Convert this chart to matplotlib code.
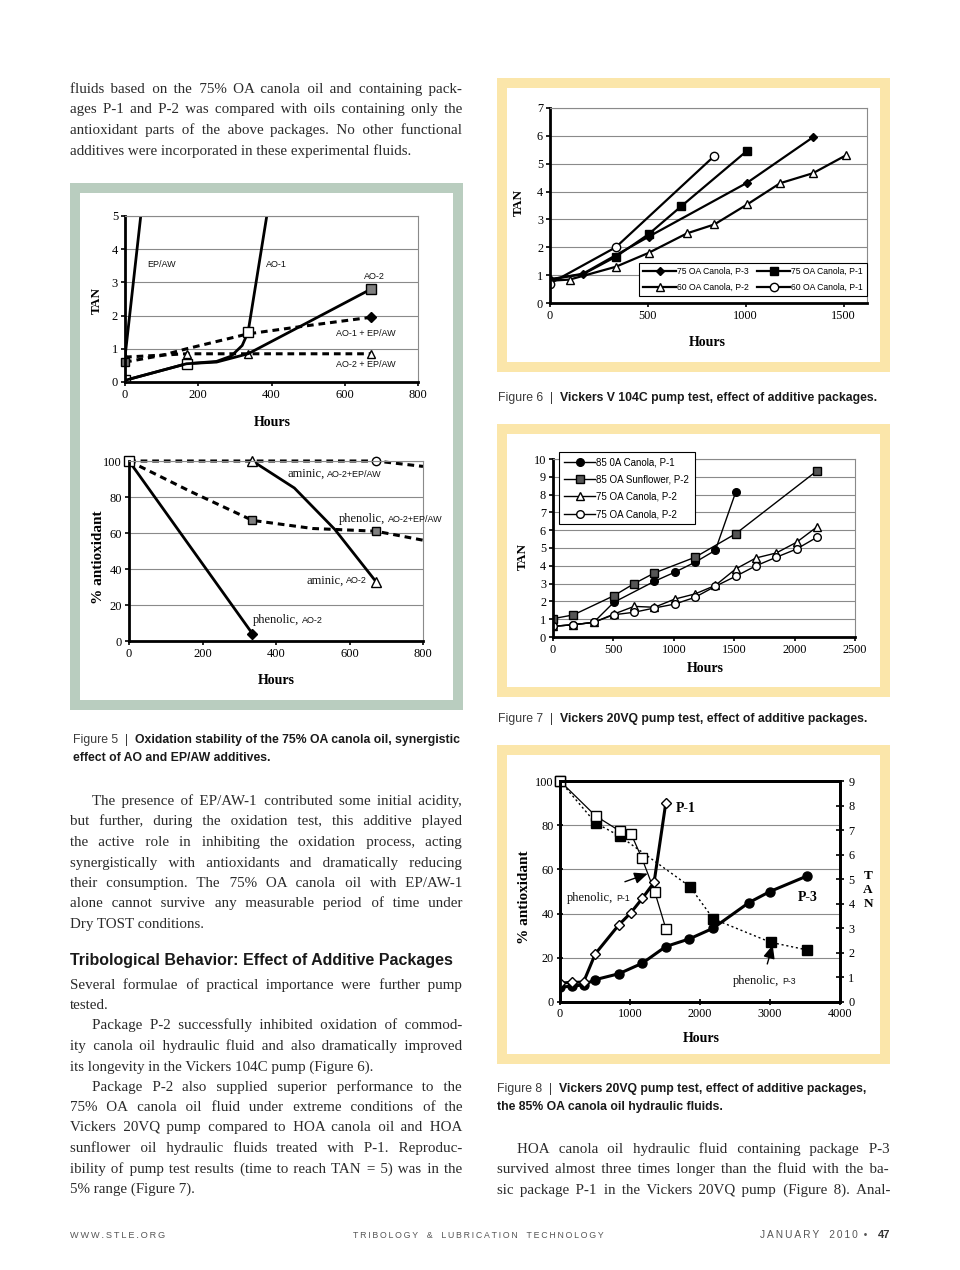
import matplotlib
matplotlib.use("Agg")
import matplotlib.pyplot as plt
from matplotlib.patches import Rectangle

W, H = 960, 1270
SERIF = ["Liberation Serif", "DejaVu Serif"]
SANS = ["Liberation Sans", "DejaVu Sans"]
NARROW = ["Liberation Sans Narrow", "Liberation Sans", "DejaVu Sans"]
GREEN = "#b9cdbf"
YELLOW = "#fbe6aa"
GRID = "#8a8a8a"
TXT = "#2a2a2a"
HAIR = "\u200a"

# ---- Figure 5 (top): TAN vs hours
ep_aw_h = [0, 44]
ep_aw_tan = [0.75, 5.1]
ao1_h = [0, 168, 250, 290, 320, 336, 390]
ao1_tan = [0.05, 0.55, 0.62, 0.78, 1.1, 1.5, 5.2]
ao2_h = [0, 168, 250, 336, 500, 672]
ao2_tan = [0.05, 0.55, 0.6, 0.85, 1.8, 2.8]
ao1_epaw_h = [0, 100, 168, 336, 500, 672]
ao1_epaw_tan = [0.6, 0.8, 1.0, 1.45, 1.7, 1.95]
ao2_epaw_h = [0, 168, 336, 672]
ao2_epaw_tan = [0.75, 0.85, 0.85, 0.85]

# ---- Figure 5 (bottom): % antioxidant vs hours
phen_ao2_h = [0, 336]
phen_ao2 = [100, 4]
amin_ao2_h = [0, 60, 168, 290, 336, 450, 560, 672]
amin_ao2 = [100, 101.5, 103, 101.5, 100, 85, 62, 33]
amin_ep_h = [0, 336, 672, 800]
amin_ep = [100, 100, 100, 97]
phen_ep_h = [0, 168, 336, 500, 672, 800]
phen_ep = [100, 83, 67, 62.5, 61, 56]

# ---- Figure 6: Vickers V104C
f6_p3_75_h = [0, 168, 504, 1008, 1344]
f6_p3_75 = [0.85, 1.05, 2.38, 4.32, 5.95]
f6_p1_75_h = [0, 168, 336, 504, 672, 1008]
f6_p1_75 = [0.85, 1.03, 1.66, 2.47, 3.48, 5.47]
f6_p2_60_h = [0, 100, 336, 504, 700, 840, 1008, 1176, 1344, 1512]
f6_p2_60 = [0.8, 0.84, 1.3, 1.8, 2.5, 2.82, 3.54, 4.3, 4.66, 5.3]
f6_p1_60_h = [0, 336, 840]
f6_p1_60 = [0.7, 2.0, 5.28]
f6_labels = ["75 OA Canola, P-3", "75 OA Canola, P-1", "60 OA Canola, P-2", "60 OA Canola, P-1"]

# ---- Figure 7: Vickers 20VQ
f7_h = [0, 168, 336, 504, 672, 840, 1008, 1176, 1344, 1512, 1680, 1848, 2016, 2184]
f7_c85_h = [0, 168, 336, 504, 840, 1008, 1176, 1344, 1512]
f7_c85 = [0.6, 0.69, 0.82, 1.95, 3.13, 3.64, 4.2, 4.87, 8.13]
f7_s85_h = [0, 168, 504, 672, 840, 1176, 1512, 2184]
f7_s85 = [1.03, 1.24, 2.32, 3.0, 3.6, 4.48, 5.8, 9.33]
f7_c75a = [0.6, 0.69, 0.82, 1.29, 1.72, 1.67, 2.13, 2.42, 2.9, 3.82, 4.44, 4.72, 5.32, 6.18]
f7_c75b = [0.6, 0.69, 0.82, 1.25, 1.39, 1.63, 1.85, 2.23, 2.85, 3.41, 4.0, 4.48, 4.94, 5.6]
f7_labels = ["85 0A Canola, P-1", "85 OA Sunflower, P-2", "75 OA Canola, P-2", "75 OA Canola, P-2"]

# ---- Figure 8: 85% OA canola, antioxidant (%) and TAN
f8_phen1_h = [0, 509, 857, 1014, 1171, 1352, 1514]
f8_phen1 = [100, 84.2, 77.3, 76.2, 65, 50, 33]
f8_phen3_h = [0, 509, 857, 1857, 2190, 3010, 3524]
f8_phen3 = [100, 81, 75, 52.2, 37.6, 27, 23.6]
f8_tan1_h = [0, 168, 336, 504, 840, 1008, 1176, 1344, 1512]
f8_tan1 = [0.77, 0.8, 0.81, 1.96, 3.14, 3.62, 4.22, 4.87, 8.12]
f8_tan3_h = [0, 168, 336, 504, 840, 1176, 1512, 1848, 2184, 2700, 3000, 3528]
f8_tan3 = [0.61, 0.64, 0.7, 0.91, 1.15, 1.58, 2.26, 2.57, 3.0, 4.05, 4.5, 5.13]

# ---- page text
top_par = [
    "fluids based on the 75% OA canola oil and containing pack-",
    "ages P-1 and P-2 was compared with oils containing only the",
    "antioxidant parts of the above packages. No other functional",
    "additives were incorporated in these experimental fluids.",
]
par_epaw = [
    "The presence of EP/AW-1 contributed some initial acidity,",
    "but further, during the oxidation test, this additive played",
    "the active role in inhibiting the oxidation process, acting",
    "synergistically with antioxidants and dramatically reducing",
    "their consumption. The 75% OA canola oil with EP/AW-1",
    "alone cannot survive any measurable period of time under",
    "Dry TOST conditions.",
]
heading = "Tribological Behavior: Effect of Additive Packages"
par_several = [
    "Several formulae of practical importance were further pump",
    "tested.",
]
par_p2a = [
    "Package P-2 successfully inhibited oxidation of commod-",
    "ity canola oil hydraulic fluid and also dramatically improved",
    "its longevity in the Vickers 104C pump (Figure 6).",
]
par_p2b = [
    "Package P-2 also supplied superior performance to the",
    "75% OA canola oil fluid under extreme conditions of the",
    "Vickers 20VQ pump compared to HOA canola oil and HOA",
    "sunflower oil hydraulic fluids treated with P-1. Reproduc-",
    "ibility of pump test results (time to reach TAN = 5) was in the",
    "5% range (Figure 7).",
]
par_right = [
    "HOA canola oil hydraulic fluid containing package P-3",
    "survived almost three times longer than the fluid with the ba-",
    "sic package P-1 in the Vickers 20VQ pump (Figure 8). Anal-",
]

plt.rcParams["font.family"] = SERIF
fig = plt.figure(figsize=(W / 100, H / 100), dpi=100)
fig.patch.set_facecolor("white")
renderer = fig.canvas.get_renderer()


def fx(x):
    return x / W


def fy(y):
    return 1 - y / H


def measure(s, size, **kw):
    t = fig.text(0, 0, s, fontsize=size, **kw)
    w = t.get_window_extent(renderer).width
    t.remove()
    return w


def add_ax(x0, y0, x1, y1):
    return fig.add_axes([fx(x0), fy(y1), (x1 - x0) / W, (y1 - y0) / H])


def frame(x0, y0, x1, y1, color, t=10):
    fig.add_artist(Rectangle((fx(x0), fy(y1)), (x1 - x0) / W, (y1 - y0) / H,
                             transform=fig.transFigure, facecolor=color,
                             edgecolor="none", zorder=-2))
    fig.add_artist(Rectangle((fx(x0 + t), fy(y1 - t)), (x1 - x0 - 2 * t) / W,
                             (y1 - y0 - 2 * t) / H, transform=fig.transFigure,
                             facecolor="white", edgecolor="none", zorder=-1))


def style(ax, size=9):
    for s in ["left", "bottom"]:
        ax.spines[s].set_linewidth(2)
    for s in ["top", "right"]:
        ax.spines[s].set_color(GRID)
        ax.spines[s].set_linewidth(0.8)
    ax.yaxis.grid(True, color=GRID, lw=0.8)
    ax.set_axisbelow(True)
    ax.tick_params(labelsize=size, length=3, width=1.2, direction="out", pad=2)


def mixed(ax, x, y, a, b, sa=9, sb=6.5):
    t = ax.text(x, y, a, fontsize=sa, va="baseline", color="#111")
    bb = t.get_window_extent(renderer)
    xd = ax.transData.inverted().transform((bb.x1 + 3, bb.y0))[0]
    ax.text(xd, y, b, fontsize=sb, va="baseline", family=SANS, color="#111")


def put_line(s, x0, x1, y, size, justify=True, color=TXT):
    # justified lines: one text per line, the gaps padded with hair spaces
    if justify:
        words = s.split(" ")
        n = len(words) - 1
        hair = (measure("|" + HAIR * 20 + "|", size) - measure("||", size)) / 20
        extra = (x1 - x0 - measure(s, size)) / hair
        total = max(0, int(round(extra)))
        out = words[0]
        given = 0
        for i, w in enumerate(words[1:], 1):
            k = int(round(total * i / n)) - given
            given += k
            out += " " + HAIR * k + w
        s = out
    fig.text(fx(x0), fy(y), s, fontsize=size, color=color, va="baseline")


def paragraph(lines, x0, x1, y, size, indent=0, last_justified=False, step=20.5):
    for i, s in enumerate(lines):
        xs = x0 + (indent if i == 0 else 0)
        last = i == len(lines) - 1 and not last_justified
        put_line(s, xs, x1, y + i * step, size, justify=not last)
    return y + len(lines) * step


def boxed_legend(ax, handles, labels, **kw):
    leg = ax.legend(handles, labels, fancybox=False, borderaxespad=0,
                    framealpha=1, handletextpad=0.1, **kw)
    leg.get_frame().set_edgecolor("k")
    leg.get_frame().set_linewidth(0.8)
    return leg


# body font size chosen so that the widest justified line fits the column
all_lines = top_par[:-1] + par_epaw[:-1] + par_p2a[:-1] + par_p2b[:-1] + par_right
body_size = min(10.8, min(392 / measure(s, 10) * 10 for s in all_lines) * 0.985)

# ---- frames
frame(70, 183, 463, 710, GREEN)
frame(497, 78, 890, 372, YELLOW)
frame(497, 424, 890, 697, YELLOW)
frame(497, 745, 890, 1064, YELLOW)

# ---- Figure 5 top
ax = add_ax(125, 216, 418, 382)
ax.set_xlim(0, 800)
ax.set_ylim(0, 5)
ax.set_xticks(range(0, 801, 200))
ax.set_yticks(range(0, 6))
style(ax)
ax.plot(ao1_epaw_h, ao1_epaw_tan, color="k", lw=2.2, ls=(0, (2.2, 1.6)),
        marker="D", ms=5, mfc="k", markevery=[5])
ax.plot(ao2_epaw_h, ao2_epaw_tan, color="k", lw=2.2, ls=(0, (2.2, 1.6)),
        marker="^", ms=6, mfc="white", mec="k", markevery=[0, 1, 2, 3])
ax.plot(ep_aw_h, ep_aw_tan, color="k", lw=2)
ax.plot(ao1_h, ao1_tan, color="k", lw=2, marker="s", ms=6.5, mfc="white",
        mec="k", markevery=[0, 1, 5])
ax.plot(ao2_h, ao2_tan, color="k", lw=2, marker="s", ms=6.5, mfc="#808080",
        mec="k", markevery=[5])
ax.plot(ao1_epaw_h[:1], ao1_epaw_tan[:1], ls="none", marker="s", ms=6,
        mfc="#707070", mec="k", clip_on=False)
for x, y, s in [(62, 3.45, "EP/AW"), (385, 3.45, "AO-1"), (652, 3.1, "AO-2"),
                (576, 1.38, "AO-1 + EP/AW"), (576, 0.46, "AO-2 + EP/AW")]:
    ax.text(x, y, s, fontsize=6.5, family=SANS, va="baseline", color="#111")
fig.text(fx(97), fy(300), "TAN", rotation=90, ha="center", va="center",
         fontsize=9.5, fontweight="bold")
fig.text(fx(272), fy(422), "Hours", ha="center", va="center", fontsize=10,
         fontweight="bold")

# ---- Figure 5 bottom
ax = add_ax(129, 461, 423, 641)
ax.set_xlim(0, 800)
ax.set_ylim(0, 100)
ax.set_xticks(range(0, 801, 200))
ax.set_yticks(range(0, 101, 20))
style(ax)
ax.plot(amin_ep_h, amin_ep, color="k", lw=2.2, ls=(0, (2.2, 1.6)), marker="o",
        ms=6, mfc="white", mec="k", markevery=[2], clip_on=False)
ax.plot(phen_ep_h, phen_ep, color="k", lw=2.2, ls=(0, (2.2, 1.6)), marker="s",
        ms=6, mfc="#808080", mec="k", markevery=[2, 4])
ax.plot(amin_ao2_h, amin_ao2, color="k", lw=2)
ax.plot([amin_ao2_h[4], amin_ao2_h[7]], [amin_ao2[4], amin_ao2[7]], ls="none",
        marker="^", ms=6.5, mfc="white", mec="k", clip_on=False)
ax.plot(phen_ao2_h, phen_ao2, color="k", lw=2, marker="D", ms=5, mfc="k",
        markevery=[1])
ax.plot(phen_ao2_h[:1], phen_ao2[:1], ls="none", marker="s", ms=6.5,
        mfc="white", mec="k", clip_on=False)
mixed(ax, 430, 91, "aminic,", "AO-2+EP/AW")
mixed(ax, 572, 66, "phenolic,", "AO-2+EP/AW")
mixed(ax, 482, 32, "aminic,", "AO-2")
mixed(ax, 337, 10, "phenolic,", "AO-2")
fig.text(fx(98), fy(557), "% antioxidant", rotation=90, ha="center",
         va="center", fontsize=11, fontweight="bold")
fig.text(fx(276), fy(681), "Hours", ha="center", va="center", fontsize=10,
         fontweight="bold")

# ---- Figure 6
ax = add_ax(550, 108, 867, 303)
ax.set_xlim(0, 1620)
ax.set_ylim(0, 7)
ax.set_xticks(range(0, 1501, 500))
ax.set_yticks(range(0, 8))
style(ax, 8.8)
l1, = ax.plot(f6_p3_75_h, f6_p3_75, color="k", lw=1.6, marker="D", ms=4,
              mfc="k")
l2, = ax.plot(f6_p1_75_h, f6_p1_75, color="k", lw=1.6, marker="s", ms=5.5,
              mfc="k", markevery=[2, 3, 4, 5])
l3, = ax.plot(f6_p2_60_h, f6_p2_60, color="k", lw=1.6, marker="^", ms=5.5,
              mfc="white", mec="k")
l4, = ax.plot(f6_p1_60_h, f6_p1_60, color="k", lw=1.6, marker="o", ms=6,
              mfc="white", mec="k")
boxed_legend(ax, [l1, l3, l2, l4],
             [f6_labels[0], f6_labels[2], f6_labels[1], f6_labels[3]],
             ncol=2, loc="lower right", bbox_to_anchor=(1.0, 0.035),
             prop={"family": SANS, "size": 6.2}, handlelength=3.8,
             columnspacing=1.0, borderpad=0.5, labelspacing=0.8)
fig.text(fx(519), fy(203), "TAN", rotation=90, ha="center", va="center",
         fontsize=9.5, fontweight="bold")
fig.text(fx(707), fy(343), "Hours", ha="center", va="center", fontsize=10,
         fontweight="bold")

# ---- Figure 7
ax = add_ax(553, 459, 855, 637)
ax.set_xlim(0, 2500)
ax.set_ylim(0, 10)
ax.set_xticks(range(0, 2501, 500))
ax.set_yticks(range(0, 11))
style(ax, 8.8)
m1, = ax.plot(f7_c85_h, f7_c85, color="k", lw=1.0, marker="o", ms=5.5,
              mfc="k")
m2, = ax.plot(f7_s85_h, f7_s85, color="k", lw=1.0, marker="s", ms=5.5,
              mfc="#555555", mec="k")
m3, = ax.plot(f7_h, f7_c75a, color="k", lw=1.0, marker="^", ms=5.5,
              mfc="white", mec="k")
m4, = ax.plot(f7_h, f7_c75b, color="k", lw=1.0, marker="o", ms=5.5,
              mfc="white", mec="k")
boxed_legend(ax, [m1, m2, m3, m4], f7_labels, loc="upper left",
             bbox_to_anchor=(0.02, 1.04), prop={"family": SANS, "size": 7},
             handlelength=3.2, borderpad=0.55, labelspacing=0.75)
fig.text(fx(523), fy(557), "TAN", rotation=90, ha="center", va="center",
         fontsize=9.5, fontweight="bold")
fig.text(fx(705), fy(668), "Hours", ha="center", va="center", fontsize=10,
         fontweight="bold")

# ---- Figure 8
ax = add_ax(560, 781, 840, 1002)
ax.set_xlim(0, 4000)
ax.set_ylim(0, 100)
ax.set_xticks(range(0, 4001, 1000))
ax.set_yticks(range(0, 101, 20))
ax.yaxis.grid(True, color=GRID, lw=0.8)
ax.set_axisbelow(True)
for s in ax.spines.values():
    s.set_linewidth(2)
ax.tick_params(labelsize=8.8, length=5, width=1.2, direction="inout", pad=2)
axr = ax.twinx()
axr.set_ylim(0, 9)
axr.set_yticks(range(0, 10))
axr.tick_params(labelsize=8.8, length=6, width=1.2, direction="inout", pad=3)
for s in axr.spines.values():
    s.set_linewidth(2)
ax.plot(f8_phen3_h, f8_phen3, color="k", lw=1.0, ls=(0, (1.5, 2)), marker="s",
        ms=6.5, mfc="k", mec="k", clip_on=False)
ax.plot(f8_phen1_h, f8_phen1, color="k", lw=0.9, marker="s", ms=7,
        mfc="white", mec="k", clip_on=False)
axr.plot(f8_tan3_h, f8_tan3, color="k", lw=2.2, marker="o", ms=6.5, mfc="k")
axr.plot(f8_tan1_h, f8_tan1, color="k", lw=2.2, marker="D", ms=5,
         mfc="white", mec="k", mew=1)
ax.text(1660, 86, "P-1", fontsize=10, fontweight="bold", va="baseline")
ax.text(3400, 45.5, "P-3", fontsize=10, fontweight="bold", va="baseline")
mixed(ax, 100, 45.5, "phenolic,", "P-1", sa=9, sb=6.3)
mixed(ax, 2470, 8, "phenolic,", "P-3", sa=9, sb=6.3)
ax.annotate("", xy=(1290, 58.5), xytext=(890, 54),
            arrowprops=dict(arrowstyle="-|>,head_length=0.8,head_width=0.35",
                            color="k", lw=1))
ax.annotate("", xy=(3050, 27), xytext=(2950, 16),
            arrowprops=dict(arrowstyle="-|>,head_length=0.8,head_width=0.35",
                            color="k", lw=1))
fig.text(fx(525), fy(897), "% antioxidant", rotation=90, ha="center",
         va="center", fontsize=11, fontweight="bold")
fig.text(fx(701), fy(1038), "Hours", ha="center", va="center", fontsize=10,
         fontweight="bold")
fig.text(fx(868), fy(890), "T\nA\nN", ha="center", va="center", fontsize=9.5,
         fontweight="bold", linespacing=1.25)

# ---- captions
cap6 = ("Figure 6  |  ", "Vickers V 104C pump test, effect of additive packages.")
w_pre = measure(cap6[0], 10, family=NARROW)
w_bold = measure(cap6[1], 10, family=NARROW, fontweight="bold")
cap_size = 10 * 380 / (w_pre + w_bold)


def caption(x, y, prefix, bold):
    x2 = x
    if prefix:
        t = fig.text(fx(x), fy(y), prefix, family=NARROW, fontsize=cap_size,
                     color="#3a3a3a", va="baseline")
        x2 = t.get_window_extent(renderer).x1
    fig.text(fx(x2), fy(y), bold, family=NARROW, fontsize=cap_size,
             fontweight="bold", color="#1a1a1a", va="baseline")


caption(73, 743, "Figure 5  |  ",
        "Oxidation stability of the 75% OA canola oil, synergistic")
caption(73, 761, "", "effect of AO and EP/AW additives.")
caption(498, 401, cap6[0], cap6[1])
caption(498, 722, "Figure 7  |  ",
        "Vickers 20VQ pump test, effect of additive packages.")
caption(497, 1092, "Figure 8  |  ",
        "Vickers 20VQ pump test, effect of additive packages,")
caption(497, 1110, "", "the 85% OA canola oil hydraulic fluids.")

# ---- body text
paragraph(top_par, 70, 462, 93, body_size)
paragraph(par_epaw, 70, 462, 805, body_size, indent=22)
hsize = 10 * 383 / measure(heading, 10, family=SANS, fontweight="bold")
fig.text(fx(70), fy(965), heading, family=SANS, fontweight="bold",
         fontsize=hsize, color="#1a1a1a", va="baseline")
paragraph(par_several, 70, 462, 988.5, body_size)
paragraph(par_p2a, 70, 462, 1029.5, body_size, indent=22)
paragraph(par_p2b, 70, 462, 1090.5, body_size, indent=22)
paragraph(par_right, 497, 889, 1153, body_size, indent=20, last_justified=True)


# ---- footer (letter-spaced)
def spaced(s):
    return "\u2009".join(s.replace(" ", "\u2009\u2009"))


def footer(s, x0, x1, y, ha="left"):
    w = measure(s, 7, family=NARROW)
    size = 7 * (x1 - x0) / w
    fig.text(fx(x0 if ha == "left" else x1), fy(y), s, family=NARROW,
             fontsize=size, color="#555555", ha=ha, va="baseline")


footer(spaced("WWW.STLE.ORG"), 70, 165, 1238)
footer(spaced("TRIBOLOGY & LUBRICATION TECHNOLOGY"), 353, 605, 1238)
footer(spaced("JANUARY 2010") + "\u2009\u2009\u2009\u2022", 760, 868, 1238)
fig.text(fx(890), fy(1238), "47", family=NARROW, fontsize=8, color="#333333",
         ha="right", va="baseline", fontweight="bold")

fig.savefig("out.png", dpi=100, facecolor="white")
